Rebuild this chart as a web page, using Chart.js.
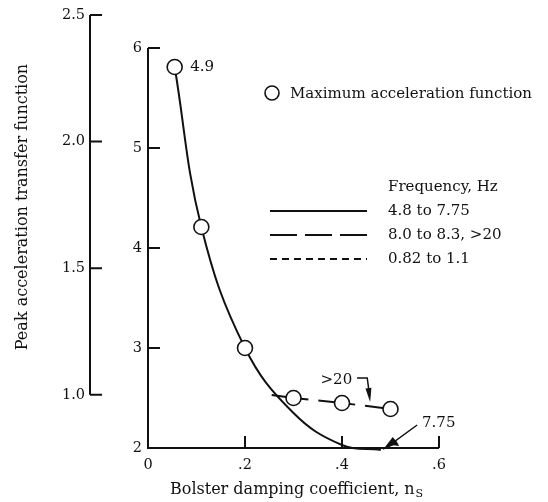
<!DOCTYPE html>
<html>
<head>
<meta charset="utf-8">
<script src="https://cdn.jsdelivr.net/npm/chart.js@4.4.1/dist/chart.umd.min.js"></script>
<style>
  html, body { margin: 0; padding: 0; background: #fff; }
</style>
</head>
<body>
<canvas id="chart" width="548" height="502"></canvas>
<script>
// peak acceleration vs bolster damping
const circleX = [0.055, 0.11, 0.2, 0.3, 0.4, 0.5];
const circleY = [5.81, 4.21, 3.0, 2.5, 2.45, 2.39];

// 4.8 to 7.75 Hz curve
const solidX = [0.055, 0.11, 0.2, 0.3, 0.4, 0.48];
const solidY = [5.81, 4.21, 3.0, 2.35, 2.03, 1.98];

// 8.0 to 8.3, >20 Hz segment
const dashX = [0.255, 0.3, 0.4, 0.5];
const dashY = [2.53, 2.5, 2.45, 2.39];

const xTicks = [0, 0.2, 0.4, 0.6];
const yTicks = [2, 3, 4, 5, 6];
const y2Ticks = [1.0, 1.5, 2.0, 2.5];

const serif = "'DejaVu Serif', serif";
const ink = "#111";

function toPoints(xs, ys) {
  return xs.map((x, i) => ({ x: x, y: ys[i] }));
}

function fillArrow(ctx, fx, fy, tx, ty, len, wid) {
  const a = Math.atan2(ty - fy, tx - fx);
  ctx.beginPath();
  ctx.moveTo(tx, ty);
  ctx.lineTo(tx - len * Math.cos(a) + wid * Math.sin(a), ty - len * Math.sin(a) - wid * Math.cos(a));
  ctx.lineTo(tx - len * Math.cos(a) - wid * Math.sin(a), ty - len * Math.sin(a) + wid * Math.cos(a));
  ctx.closePath();
  ctx.fill();
}

// axes drawn by hand: inward ticks, outer axis only spans 1.0 - 2.5
const paperAxes = {
  id: "paperAxes",
  beforeDatasetsDraw(chart) {
    const ctx = chart.ctx;
    const sx = chart.scales.x, sy = chart.scales.y, sy2 = chart.scales.y2;
    const x0 = sx.getPixelForValue(0), xr = sx.getPixelForValue(0.6);
    const yb = sy.getPixelForValue(2), yt = sy.getPixelForValue(6);
    const tick = 12;
    ctx.save();
    ctx.strokeStyle = ink;
    ctx.lineWidth = 2;
    ctx.beginPath();
    ctx.moveTo(x0, yt);
    ctx.lineTo(x0, yb);
    ctx.lineTo(xr, yb);
    yTicks.slice(1).forEach((v) => {
      const p = sy.getPixelForValue(v);
      ctx.moveTo(x0, p);
      ctx.lineTo(x0 + tick, p);
    });
    xTicks.slice(1).forEach((v) => {
      const p = sx.getPixelForValue(v);
      ctx.moveTo(p, yb);
      ctx.lineTo(p, yb - tick);
    });
    // outer axis
    const ox = sy2.right;
    ctx.moveTo(ox, sy2.getPixelForValue(y2Ticks[0]));
    ctx.lineTo(ox, sy2.getPixelForValue(y2Ticks[y2Ticks.length - 1]));
    y2Ticks.forEach((v) => {
      const p = sy2.getPixelForValue(v);
      ctx.moveTo(ox, p);
      ctx.lineTo(ox + tick, p);
    });
    ctx.stroke();

    // axis titles
    ctx.fillStyle = ink;
    ctx.font = "16px " + serif;
    ctx.textBaseline = "middle";
    ctx.save();
    ctx.translate(23, 207);
    ctx.rotate(-Math.PI / 2);
    ctx.textAlign = "center";
    ctx.fillText("Peak acceleration transfer function", 0, 0);
    ctx.restore();
    ctx.textAlign = "left";
    const xt = "Bolster damping coefficient, n";
    ctx.fillText(xt, 170, 490);
    const w = ctx.measureText(xt).width;
    ctx.font = "11px " + serif;
    ctx.fillText("S", 170 + w + 1, 494);
    ctx.restore();
  },
  afterDatasetsDraw(chart) {
    const ctx = chart.ctx;
    const sx = chart.scales.x, sy = chart.scales.y;
    const px = (v) => sx.getPixelForValue(v);
    const py = (v) => sy.getPixelForValue(v);
    ctx.save();
    ctx.fillStyle = ink;
    ctx.strokeStyle = ink;
    ctx.textBaseline = "middle";
    ctx.font = "15px " + serif;

    // point notes
    ctx.textAlign = "left";
    ctx.fillText("4.9", px(0.087), py(5.81));
    ctx.fillText("7.75", px(0.565), py(2.25));
    ctx.textAlign = "right";
    ctx.fillText(">20", px(0.421), py(2.68));

    // >20 leader
    ctx.lineWidth = 1.5;
    ctx.beginPath();
    ctx.moveTo(px(0.431), py(2.70));
    ctx.lineTo(px(0.452), py(2.70));
    ctx.lineTo(px(0.457), py(2.52));
    ctx.stroke();
    fillArrow(ctx, px(0.452), py(2.70), px(0.458), py(2.46), 14, 3);

    // 7.75 leader, zig-zag arrow
    ctx.beginPath();
    ctx.moveTo(px(0.555), py(2.23));
    ctx.lineTo(px(0.51), py(2.07));
    ctx.lineTo(px(0.515), py(2.03));
    ctx.lineTo(px(0.497), py(2.04));
    ctx.stroke();
    fillArrow(ctx, px(0.515), py(2.10), px(0.484), py(1.98), 16, 4);

    // legend
    ctx.lineWidth = 1.6;
    ctx.fillStyle = "#fff";
    ctx.beginPath();
    ctx.arc(272, 93, 7, 0, Math.PI * 2);
    ctx.fill();
    ctx.stroke();
    ctx.fillStyle = ink;
    ctx.textAlign = "left";
    ctx.fillText("Maximum acceleration function", 290, 94);
    ctx.fillText("Frequency, Hz", 388, 187);

    const rows = [
      { y: 211, dash: [], text: "4.8 to 7.75" },
      { y: 235, dash: [27, 8], text: "8.0 to 8.3, >20" },
      { y: 259, dash: [7, 5], text: "0.82 to 1.1" },
    ];
    ctx.lineWidth = 2;
    rows.forEach((r) => {
      ctx.setLineDash(r.dash);
      ctx.beginPath();
      ctx.moveTo(270, r.y);
      ctx.lineTo(367, r.y);
      ctx.stroke();
      ctx.setLineDash([]);
      ctx.fillText(r.text, 388, r.y);
    });
    ctx.restore();
  },
};

const tickFont = { family: serif, size: 14.5 };

new Chart(document.getElementById("chart"), {
  type: "line",
  data: {
    datasets: [
      {
        label: "Maximum acceleration function",
        type: "scatter",
        data: toPoints(circleX, circleY),
        pointRadius: 7.5,
        pointBackgroundColor: "#fff",
        pointBorderColor: ink,
        pointBorderWidth: 1.6,
        showLine: false,
        order: 0,
      },
      {
        label: "4.8 to 7.75",
        data: toPoints(solidX, solidY),
        borderColor: ink,
        borderWidth: 2,
        pointRadius: 0,
        tension: 0.4,
        fill: false,
        clip: false,
        order: 1,
      },
      {
        label: "8.0 to 8.3, >20",
        data: toPoints(dashX, dashY),
        borderColor: ink,
        borderWidth: 2,
        borderDash: [37, 10],
        pointRadius: 0,
        tension: 0,
        fill: false,
        clip: false,
        order: 1,
      },
    ],
  },
  options: {
    responsive: false,
    animation: false,
    layout: { padding: { left: 0, right: 109, top: 15, bottom: 0 } },
    plugins: {
      legend: { display: false },
      tooltip: { enabled: false },
    },
    scales: {
      x: {
        type: "linear",
        min: 0,
        max: 0.6,
        afterBuildTicks: (s) => { s.ticks = xTicks.map((v) => ({ value: v })); },
        afterFit: (s) => { s.height = 54; },
        ticks: {
          color: ink,
          font: tickFont,
          padding: 9,
          maxRotation: 0,
          callback: (v) => (v === 0 ? "0" : String(v).replace("0.", ".")),
        },
        grid: { display: false, drawTicks: false },
        border: { display: false },
      },
      y: {
        type: "linear",
        position: "left",
        weight: 0,
        min: 2,
        max: 6.33,
        afterBuildTicks: (s) => { s.ticks = yTicks.map((v) => ({ value: v })); },
        afterFit: (s) => { s.width = 58; },
        ticks: { color: ink, font: tickFont, padding: 6 },
        grid: { display: false, drawTicks: false },
        border: { display: false },
      },
      y2: {
        type: "linear",
        position: "left",
        weight: 1,
        min: 0.79,
        max: 2.5,
        afterBuildTicks: (s) => { s.ticks = y2Ticks.map((v) => ({ value: v })); },
        afterFit: (s) => { s.width = 90; },
        ticks: { color: ink, font: tickFont, padding: 5, callback: (v) => v.toFixed(1) },
        grid: { display: false, drawTicks: false },
        border: { display: false },
      },
    },
  },
  plugins: [paperAxes],
});
</script>
</body>
</html>
